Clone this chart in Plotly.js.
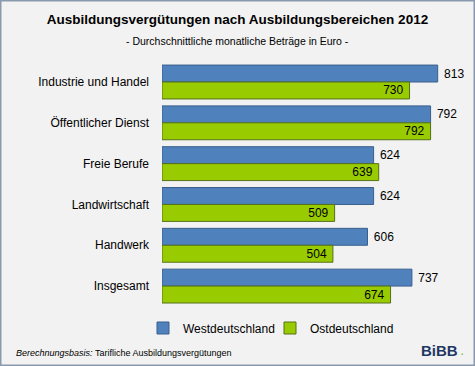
<!DOCTYPE html>
<html><head><meta charset="utf-8">
<script src="https://cdn.plot.ly/plotly-3.0.1.min.js"></script>
<style>html,body{margin:0;padding:0;background:#f2f2f2;}#chart{width:475px;height:366px;}</style>
</head><body><div id="chart"></div>
<script>
const categories = ["Industrie und Handel", "Öffentlicher Dienst", "Freie Berufe", "Landwirtschaft", "Handwerk", "Insgesamt"];
const westValues = [813, 792, 624, 624, 606, 737];
const eastValues = [730, 792, 639, 509, 504, 674];
const seriesNames = ["Westdeutschland", "Ostdeutschland"];

const FONT = '"Liberation Sans", Arial, sans-serif';
const W = 475, H = 366;
const px = v => v / W, py = v => 1 - v / H;

const traces = [
  {
    type: 'bar', orientation: 'h', name: seriesNames[0], legend: 'legend',
    y: categories, x: westValues,
    texttemplate: '\u00a0%{x}', textposition: 'outside',
    textfont: {family: FONT, size: 12, color: '#000'},
    constraintext: 'none', cliponaxis: false,
    marker: {color: '#4f81bd', line: {color: '#3a5f8c', width: 1}},
    hoverinfo: 'x+name'
  },
  {
    type: 'bar', orientation: 'h', name: seriesNames[1], legend: 'legend2',
    y: categories, x: eastValues,
    texttemplate: '%{x}\u00a0', textposition: 'inside', insidetextanchor: 'end',
    textfont: {family: FONT, size: 12, color: '#000'},
    constraintext: 'none',
    marker: {color: '#99cc00', line: {color: '#55701a', width: 1}},
    hoverinfo: 'x+name'
  }
];

const legendBase = {
  orientation: 'h', xanchor: 'left', y: py(328), yanchor: 'middle',
  font: {family: FONT, size: 12, color: '#000'}, bgcolor: 'rgba(0,0,0,0)',
  itemwidth: 30
};

const layout = {
  width: W, height: H,
  margin: {l: 0, r: 0, t: 0, b: 0},
  paper_bgcolor: '#f2f2f2', plot_bgcolor: 'rgba(0,0,0,0)',
  font: {family: FONT, size: 12, color: '#000'},
  barmode: 'group', bargap: 0.17, bargroupgap: 0,
  showlegend: true,
  title: {
    text: '<b>Ausbildungsvergütungen nach Ausbildungsbereichen 2012</b>',
    font: {family: FONT, size: 13.5, color: '#000'},
    x: 0.5, xanchor: 'center', xref: 'paper',
    y: py(19), yanchor: 'middle', yref: 'container'
  },
  xaxis: {
    domain: [px(162), px(162 + 900 * 0.3391)], range: [0, 900],
    showgrid: false, zeroline: false, showline: false, showticklabels: false, ticks: ''
  },
  yaxis: {
    domain: [py(306.5), py(61.6)], autorange: 'reversed',
    showgrid: false, zeroline: false, showline: false, ticks: '',
    ticklabelstandoff: 12,
    tickfont: {family: FONT, size: 12, color: '#000'}
  },
  legend: Object.assign({}, legendBase, {x: px(143)}),
  legend2: Object.assign({}, legendBase, {x: px(270)}),
  annotations: [
    {text: '- Durchschnittliche monatliche Beträge in Euro -', xref: 'paper', yref: 'paper',
     x: 0.5, y: py(41), xanchor: 'center', yanchor: 'middle', showarrow: false,
     font: {family: FONT, size: 10.5, color: '#000'}},
    {text: '<i>Berechnungsbasis:</i> Tarifliche Ausbildungsvergütungen', xref: 'paper', yref: 'paper',
     x: px(14), y: py(353), xanchor: 'left', yanchor: 'middle', showarrow: false,
     font: {family: FONT, size: 9, color: '#000'}},
    {text: '<b>BiBB</b>', xref: 'paper', yref: 'paper',
     x: px(460), y: py(350), xanchor: 'right', yanchor: 'middle', showarrow: false,
     font: {family: FONT, size: 15, color: '#1f3864'}},
    {text: '▪', xref: 'paper', yref: 'paper',
     x: px(459), y: py(354), xanchor: 'left', yanchor: 'middle', showarrow: false,
     font: {family: FONT, size: 6, color: '#8dc63f'}}
  ],
  shapes: [
    {type: 'rect', xref: 'paper', yref: 'paper', x0: 0, x1: 1, y0: 0, y1: 1,
     line: {color: '#8a99ad', width: 3}, fillcolor: 'rgba(0,0,0,0)', layer: 'above'}
  ]
};

Plotly.newPlot('chart', traces, layout, {displayModeBar: false, staticPlot: true});
</script></body></html>
